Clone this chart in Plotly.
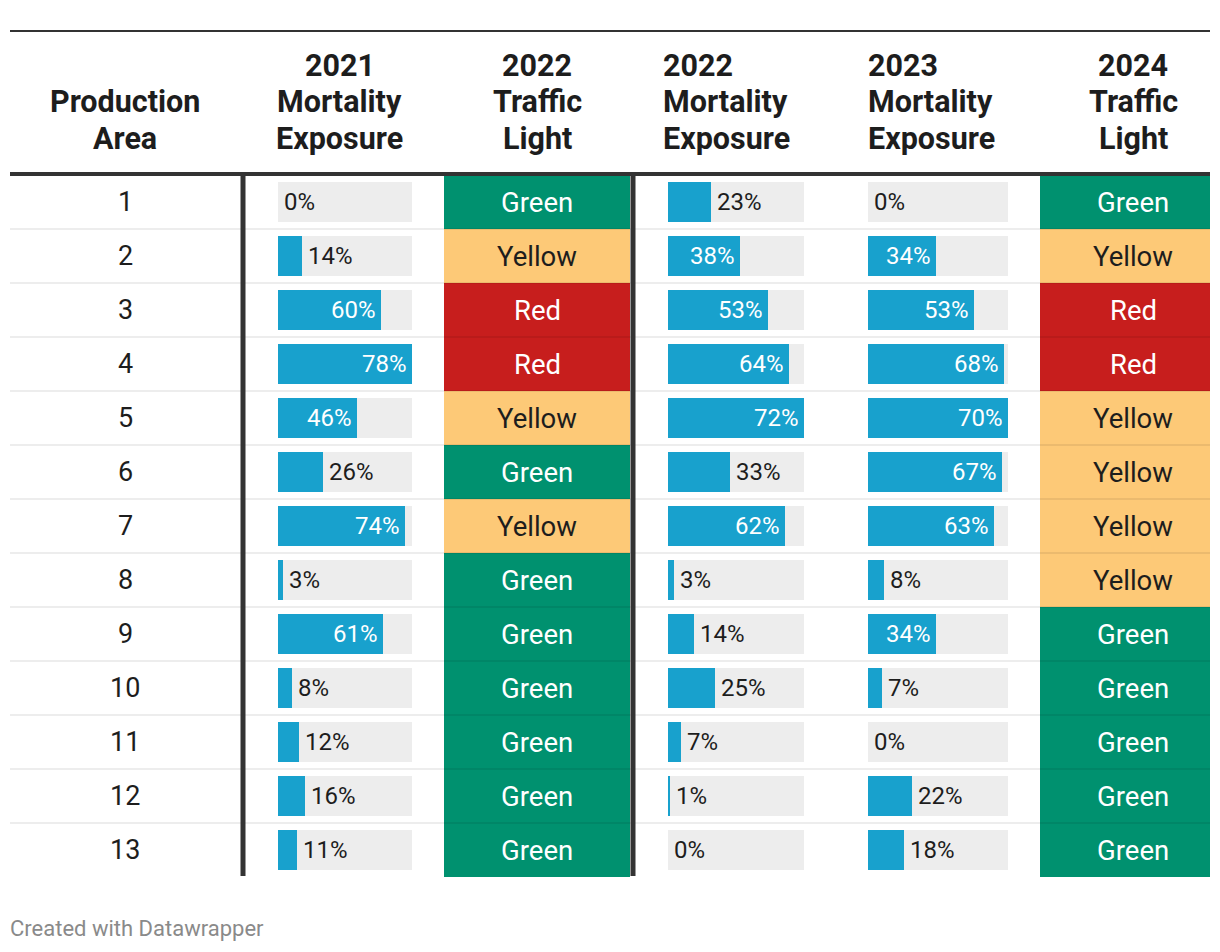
import plotly.graph_objects as go

# ---------------- data ----------------
areas = [1, 2, 3, 4, 5, 6, 7, 8, 9, 10, 11, 12, 13]
mort_2021 = [0, 14, 60, 78, 46, 26, 74, 3, 61, 8, 12, 16, 11]
light_2022 = ["Green", "Yellow", "Red", "Red", "Yellow", "Green", "Yellow",
              "Green", "Green", "Green", "Green", "Green", "Green"]
mort_2022 = [23, 38, 53, 64, 72, 33, 62, 3, 14, 25, 7, 1, 0]
mort_2023 = [0, 34, 53, 68, 70, 67, 63, 8, 34, 7, 0, 22, 18]
light_2024 = ["Green", "Yellow", "Red", "Red", "Yellow", "Yellow", "Yellow",
              "Yellow", "Green", "Green", "Green", "Green", "Green"]

headers = [["Production", "Area"],
           ["2021", "Mortality", "Exposure"],
           ["2022", "Traffic", "Light"],
           ["2022", "Mortality", "Exposure"],
           ["2023", "Mortality", "Exposure"],
           ["2024", "Traffic", "Light"]]
footer = "Created with Datawrapper"

# ---------------- style ----------------
W, H = 1220, 952
FONT = "Roboto"
DARK = "#1d1d1d"
BLUE = "#18a1cd"
BG = "#ededed"
LIGHT_COL = {"Green": "#00916f", "Yellow": "#fdc977", "Red": "#c71e1d"}
LIGHT_TXT = {"Green": "#ffffff", "Yellow": DARK, "Red": "#ffffff"}

ROW_TOP, ROW_H = 175, 54
N = len(areas)
ROW_BOT = ROW_TOP + ROW_H * N


def px(x):
    return x / W


def py(y):
    return 1 - y / H


# column pixel spans
mort_cols = [("x", 278, 412, mort_2021), ("x3", 668, 804, mort_2022), ("x4", 868, 1008, mort_2023)]
light_cols = [("x2", 444, 630, light_2022, 537), ("x5", 1040, 1210, light_2024, 1133)]

fig = go.Figure()
annotations = []

for ax, x0, x1, vals in mort_cols:
    vmax = max(vals)
    fig.add_trace(go.Bar(x=[vmax] * N, y=areas, orientation="h", width=0.74,
                         marker=dict(color=BG, line=dict(width=0)),
                         xaxis=ax, yaxis="y", hoverinfo="skip", showlegend=False))
    fig.add_trace(go.Bar(x=vals, y=areas, orientation="h", width=0.74,
                         marker=dict(color=BLUE, line=dict(width=0)),
                         xaxis=ax, yaxis="y", hoverinfo="skip", showlegend=False))
    colw = x1 - x0
    for a, v in zip(areas, vals):
        inside = v / vmax * colw >= 65
        annotations.append(dict(
            x=v, y=a, xref=ax, yref="y", text=f"{v}%", showarrow=False,
            xanchor="right" if inside else "left", xshift=-3 if inside else 4,
            yanchor="middle",
            font=dict(family=FONT, size=24, color="#ffffff" if inside else DARK)))

for ax, x0, x1, vals, tx in light_cols:
    fig.add_trace(go.Bar(x=[1] * N, y=areas, orientation="h", width=1.0,
                         marker=dict(color=[LIGHT_COL[v] for v in vals], line=dict(width=0)),
                         xaxis=ax, yaxis="y", hoverinfo="skip", showlegend=False))
    for a, v in zip(areas, vals):
        annotations.append(dict(
            x=px(tx), y=a, xref="paper", yref="y", text=v, showarrow=False,
            xanchor="center", yanchor="middle",
            font=dict(family=FONT, size=27.5, color=LIGHT_TXT[v])))

# production area numbers
for a in areas:
    annotations.append(dict(x=px(125), y=a, xref="paper", yref="y", text=str(a),
                            showarrow=False, xanchor="center", yanchor="middle",
                            font=dict(family=FONT, size=27, color=DARK)))

# headers (bottom aligned, one annotation per line)
hdr_pos = [(125, "center"), (340, "center"), (537, "center"),
           (663, "left"), (868, "left"), (1133, "center")]
line_y = [66, 102, 138]
for lines, (hx, anchor) in zip(headers, hdr_pos):
    ys = line_y[-len(lines):]
    for ln, hy in zip(lines, ys):
        annotations.append(dict(x=px(hx), y=py(hy), xref="paper", yref="paper",
                                text=f"<b>{ln}</b>", showarrow=False,
                                xanchor=anchor, yanchor="middle",
                                xshift=-2 if anchor == "left" else 0,
                                font=dict(family=FONT, size=30.5, color=DARK)))

annotations.append(dict(x=px(10), y=py(928), xref="paper", yref="paper", text=footer,
                        showarrow=False, xanchor="left", yanchor="middle", xshift=-2,
                        font=dict(family=FONT, size=22, color="#8a8a8a")))

shapes = []
# row separators
for k in range(1, N):
    yy = ROW_TOP + ROW_H * k
    shapes.append(dict(type="line", xref="paper", yref="paper", x0=px(10), x1=px(1210),
                       y0=py(yy), y1=py(yy), line=dict(color="rgba(0,0,0,0.07)", width=2),
                       layer="above"))
# top and header rules
shapes.append(dict(type="line", xref="paper", yref="paper", x0=px(10), x1=px(1210),
                   y0=py(31), y1=py(31), line=dict(color="#333333", width=2), layer="above"))
shapes.append(dict(type="line", xref="paper", yref="paper", x0=px(10), x1=px(1210),
                   y0=py(174), y1=py(174), line=dict(color="#333333", width=4), layer="above"))
# vertical separators
for vx in (243, 633):
    shapes.append(dict(type="line", xref="paper", yref="paper", x0=px(vx), x1=px(vx),
                       y0=py(176), y1=py(ROW_BOT - 1), line=dict(color="#333333", width=5),
                       layer="above"))

layout_axes = {}
all_cols = [(c[0], c[1], c[2], [0, max(c[3])]) for c in mort_cols] + \
           [(c[0], c[1], c[2], [0, 1]) for c in light_cols]
for ax, x0, x1, rng in all_cols:
    name = "xaxis" if ax == "x" else "xaxis" + ax[1:]
    layout_axes[name] = dict(domain=[px(x0), px(x1)], range=rng, anchor="y",
                             visible=False, fixedrange=True)

fig.update_layout(
    width=W, height=H,
    margin=dict(l=0, r=0, t=0, b=0),
    paper_bgcolor="#ffffff", plot_bgcolor="rgba(0,0,0,0)",
    barmode="overlay", bargap=0,
    yaxis=dict(domain=[py(ROW_BOT), py(ROW_TOP)], range=[N + 0.5, 0.5],
               visible=False, fixedrange=True),
    annotations=annotations, shapes=shapes,
    hovermode=False, showlegend=False,
    **layout_axes,
)

fig.write_html("out.html", config={"displayModeBar": False, "staticPlot": True},
               post_script="document.body.style.margin='0';")
